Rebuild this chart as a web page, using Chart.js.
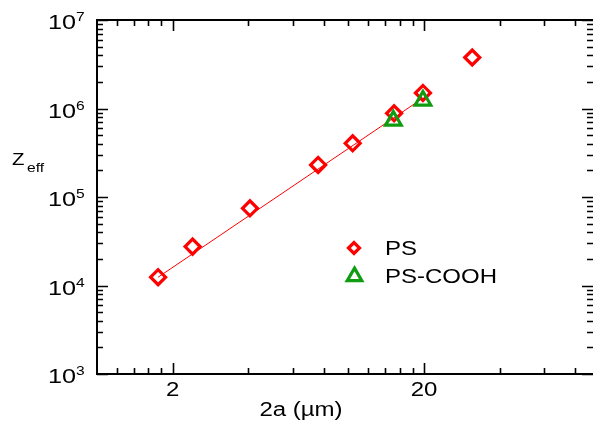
<!DOCTYPE html>
<html>
<head>
<meta charset="utf-8">
<script src="https://cdn.jsdelivr.net/npm/chart.js@4.4.0/dist/chart.umd.min.js"></script>
<style>
    html, body { margin: 0; padding: 0; overflow: hidden; background: #fff; }
    canvas { display: block; }
</style>
</head>
<body>
<canvas id="zeffChart" width="593" height="434"></canvas>
<script>
// PS particles: diameter 2a (um) and effective charge
const psSize = [1.75, 2.40, 4.06, 7.58, 10.4, 15.2, 19.8, 31.1];
const psZeff = [1.24e4, 2.75e4, 7.45e4, 2.30e5, 4.04e5, 8.83e5, 1.50e6, 3.77e6];

// PS-COOH particles
const coohSize = [15.1, 19.8];
const coohZeff = [7.31e5, 1.23e6];

// fitted power law line (end points)
const fitSize = [1.75, 19.8];
const fitZeff = [1.24e4, 1.31e6];

// axis ticks; the plot is cut at the window edge, around 2a = 94
const xMin = 1;
const xMax = 94;
const xMajorTicks = [2, 20];
const xMinorTicks = [1.2, 1.4, 1.6, 1.8, 4, 6, 8, 10, 12, 14, 16, 18, 40, 60, 80];
const yDecades = [3, 4, 5, 6, 7];
const yMinorMult = [2, 3, 4, 5, 6, 7, 8, 9];

const legendLabels = ['PS', 'PS-COOH'];

const RED = '#ff0000';
const GREEN = '#109c10';
const FONT = '"Liberation Sans", Arial, sans-serif';

function toPoints(xs, ys) {
    return xs.map((x, i) => ({ x: x, y: ys[i] }));
}

// text in the original looks a bit wider than normal Arial
function wideText(ctx, txt, x, y, size, align) {
    ctx.save();
    ctx.translate(x, y);
    ctx.scale(1.2, 1);
    ctx.font = size + 'px ' + FONT;
    ctx.fillStyle = '#000';
    ctx.textAlign = align;
    ctx.textBaseline = 'alphabetic';
    ctx.fillText(txt, 0, 0);
    ctx.restore();
}

function diamond(ctx, x, y, r, color) {
    ctx.beginPath();
    ctx.moveTo(x - r, y);
    ctx.lineTo(x, y - r);
    ctx.lineTo(x + r, y);
    ctx.lineTo(x, y + r);
    ctx.closePath();
    ctx.strokeStyle = color;
    ctx.lineWidth = 3.2;
    ctx.stroke();
}

function triangle(ctx, x, y, r, color) {
    ctx.beginPath();
    ctx.moveTo(x, y - r);
    ctx.lineTo(x + r * 0.866, y + r / 2);
    ctx.lineTo(x - r * 0.866, y + r / 2);
    ctx.closePath();
    ctx.strokeStyle = color;
    ctx.lineWidth = 3.2;
    ctx.stroke();
}

// frame, inward ticks, labels and legend
const framePlugin = {
    id: 'frame',
    afterDraw(chart) {
        const ctx = chart.ctx;
        const area = chart.chartArea;
        const xs = chart.scales.x;
        const ys = chart.scales.y;

        ctx.save();
        ctx.strokeStyle = '#000';
        ctx.lineWidth = 1.6;

        // x ticks, bottom and top
        const xTick = (v, len) => {
            const px = Math.round(xs.getPixelForValue(v)) + 0.5;
            ctx.beginPath();
            ctx.moveTo(px, area.bottom);
            ctx.lineTo(px, area.bottom - len);
            ctx.moveTo(px, area.top);
            ctx.lineTo(px, area.top + len);
            ctx.stroke();
        };
        xMinorTicks.forEach(v => xTick(v, 6));
        xMajorTicks.forEach(v => xTick(v, 11));

        // y ticks, left and right
        const yTick = (v, len) => {
            const py = Math.round(ys.getPixelForValue(v)) + 0.5;
            ctx.beginPath();
            ctx.moveTo(area.left, py);
            ctx.lineTo(area.left + len, py);
            ctx.moveTo(area.right, py);
            ctx.lineTo(area.right - len, py);
            ctx.stroke();
        };
        yDecades.forEach((d, i) => {
            yTick(Math.pow(10, d), 11);
            if (i < yDecades.length - 1) {
                yMinorMult.forEach(m => yTick(m * Math.pow(10, d), 6));
            }
        });

        // frame: left, top and bottom (right side is outside the window)
        ctx.lineWidth = 2;
        ctx.beginPath();
        ctx.moveTo(area.right, area.top);
        ctx.lineTo(area.left, area.top);
        ctx.lineTo(area.left, area.bottom);
        ctx.lineTo(area.right, area.bottom);
        ctx.stroke();
        ctx.restore();

        // y tick labels 10^n
        yDecades.forEach(d => {
            const py = ys.getPixelForValue(Math.pow(10, d));
            wideText(ctx, '10', 76, py + 9, 21, 'right');
            wideText(ctx, String(d), 76, py + 1, 13, 'left');
        });

        // x tick labels
        xMajorTicks.forEach(v => {
            wideText(ctx, String(v), xs.getPixelForValue(v), area.bottom + 22, 20, 'center');
        });

        // axis titles
        wideText(ctx, '2a (\u00b5m)', 301, 416, 20, 'center');
        wideText(ctx, 'Z', 12, 165, 17, 'left');
        wideText(ctx, 'eff', 27, 172, 13, 'left');

        // legend
        diamond(ctx, 354, 248, 5.5, RED);
        triangle(ctx, 354.5, 276.5, 8.4, GREEN);
        wideText(ctx, legendLabels[0], 385, 255, 20, 'left');
        wideText(ctx, legendLabels[1], 385, 283, 20, 'left');
    }
};

const ctx = document.getElementById('zeffChart').getContext('2d');
new Chart(ctx, {
    type: 'scatter',
    data: {
        datasets: [
            {
                label: 'fit',
                type: 'line',
                data: toPoints(fitSize, fitZeff),
                borderColor: RED,
                borderWidth: 1,
                pointRadius: 0,
                fill: false,
                order: 3
            },
            {
                label: legendLabels[0],
                data: toPoints(psSize, psZeff),
                pointStyle: 'rectRot',
                pointRadius: 7.5,
                pointBorderWidth: 3.2,
                borderColor: RED,
                backgroundColor: 'rgba(0,0,0,0)',
                order: 2
            },
            {
                label: legendLabels[1],
                data: toPoints(coohSize, coohZeff),
                pointStyle: 'triangle',
                pointRadius: 9,
                pointBorderWidth: 3.2,
                borderColor: GREEN,
                backgroundColor: 'rgba(0,0,0,0)',
                order: 1
            }
        ]
    },
    options: {
        responsive: false,
        animation: false,
        layout: { padding: { left: 97, top: 20, right: 0, bottom: 60 }, autoPadding: false },
        plugins: {
            legend: { display: false },
            tooltip: { enabled: false }
        },
        scales: {
            x: { type: 'logarithmic', min: xMin, max: xMax, display: false, ticks: { display: false } },
            y: { type: 'logarithmic', min: 1e3, max: 1e7, display: false, ticks: { display: false } }
        }
    },
    plugins: [framePlugin]
});
</script>
</body>
</html>
